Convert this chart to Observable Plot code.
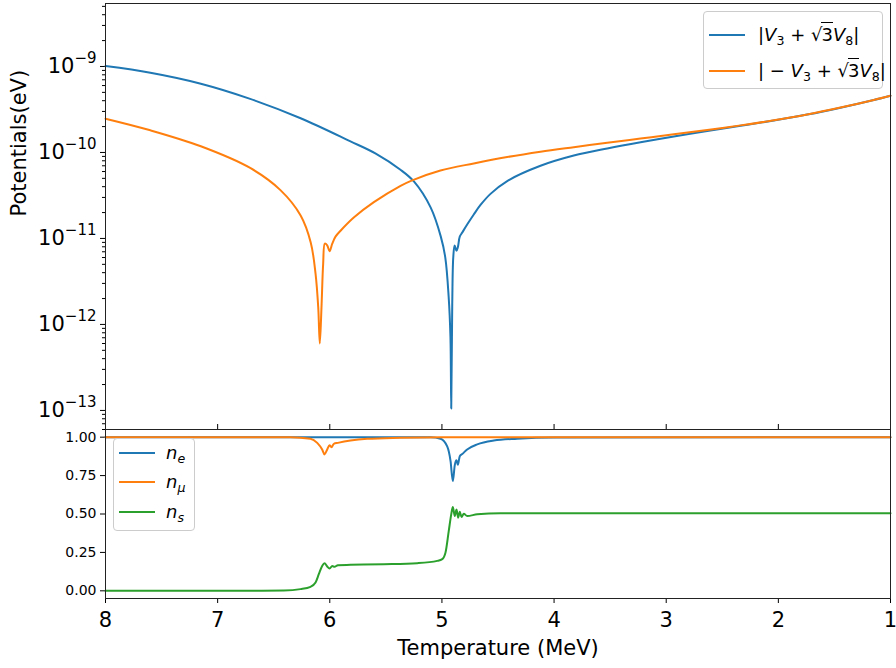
<!DOCTYPE html>
<html>
<head>
<meta charset="utf-8">
<script src="https://cdn.jsdelivr.net/npm/d3@7"></script>
<script src="https://cdn.jsdelivr.net/npm/@observablehq/plot@0.6"></script>
<style>
  body { margin: 0; background: #fff; font-family: "DejaVu Sans", sans-serif; }
  #fig { position: relative; width: 896px; height: 668px; overflow: hidden; }
  #fig > svg { position: absolute; left: 0; }
  .legend { position: absolute; background: rgba(255,255,255,0.8); border: 1px solid #cccccc; border-radius: 4px; box-sizing: border-box; }
  .key { position: absolute; height: 0; width: 36px; border-top: 2px solid; }
  .lab { position: absolute; font-size: 18px; line-height: 1; white-space: nowrap; transform: translateY(-50%); color: #000; }
  .lab sub { font-size: 0.7em; vertical-align: -0.3em; line-height: 0; }
  .ol { border-top: 1.3px solid #000; padding-top: 1px; margin-left: -1px; }
</style>
</head>
<body>
<div id="fig"></div>
<script>
// Temperature grid (MeV) and |V3 + sqrt(3) V8| (eV)
const T_plus = [8.00, 7.60, 7.15, 6.71, 6.26, 5.82, 5.59, 5.37, 5.25, 5.10, 5.01, 4.97, 4.94, 4.924, 4.917,
  4.908, 4.899, 4.887, 4.870, 4.858, 4.841, 4.819, 4.775, 4.716, 4.656, 4.567, 4.418, 4.121, 3.824,
  3.526, 3.229, 2.932, 2.634, 2.337, 2.040, 1.743, 1.446, 1.149, 1.00];
const V_plus = [1.01e-9, 8.45e-10, 6.3e-10, 4.2e-10, 2.5e-10, 1.355e-10, 9.7e-11, 6.3e-11, 4.6e-11, 2.28e-11, 1.05e-11, 6.0e-12, 2.1e-12, 7.1e-13, 1.05e-13,
  1.74e-12, 6.0e-12, 8.3e-12, 7.2e-12, 7.9e-12, 1.05e-11, 1.17e-11, 1.45e-11, 1.9e-11, 2.45e-11, 3.3e-11, 4.65e-11, 7.0e-11, 9.2e-11,
  1.114e-10, 1.318e-10, 1.535e-10, 1.778e-10, 2.042e-10, 2.355e-10, 2.76e-10, 3.32e-10, 4.08e-10, 4.57e-10];

// |-V3 + sqrt(3) V8| (eV)
const T_minus = [8.00, 7.60, 7.15, 6.71, 6.44, 6.26, 6.17, 6.127, 6.103, 6.089, 6.074, 6.059, 6.044, 6.023,
  6.002, 5.978, 5.949, 5.904, 5.786, 5.607, 5.369, 5.265, 5.013, 4.716, 4.418, 4.121, 3.824, 3.526,
  3.229, 2.932, 2.634, 2.337, 2.040, 1.743, 1.446, 1.149, 1.00];
const V_minus = [2.47e-10, 1.81e-10, 1.18e-10, 6.6e-11, 3.65e-11, 1.85e-11, 9.0e-12, 3.9e-12, 1.58e-12, 6.0e-13, 1.58e-12, 5.1e-12, 8.7e-12, 8.3e-12,
  7.1e-12, 8.7e-12, 1.05e-11, 1.23e-11, 1.75e-11, 2.64e-11, 4.09e-11, 4.74e-11, 6.17e-11, 7.46e-11, 8.85e-11, 1.021e-10, 1.153e-10, 1.297e-10,
  1.452e-10, 1.626e-10, 1.828e-10, 2.065e-10, 2.366e-10, 2.767e-10, 3.327e-10, 4.083e-10, 4.571e-10];

// Occupation numbers
const T_ne = [8.0, 5.10, 5.013, 4.953, 4.923, 4.903, 4.885, 4.870, 4.858, 4.841, 4.819, 4.775, 4.685, 4.537, 4.329, 4.0, 1.0];
const n_e  = [1.0, 1.0, 0.99, 0.94, 0.844, 0.714, 0.82, 0.85, 0.82, 0.876, 0.89, 0.92, 0.953, 0.978, 0.99, 0.998, 1.0];

const T_nmu = [8.0, 6.35, 6.172, 6.112, 6.068, 6.047, 6.023, 6.002, 5.985, 5.964, 5.928, 5.815, 5.666, 5.369, 5.0, 1.0];
const n_mu  = [1.0, 1.0, 0.99, 0.963, 0.92, 0.888, 0.92, 0.948, 0.935, 0.957, 0.963, 0.978, 0.989, 0.996, 1.0, 1.0];

const T_ns = [8.0, 6.71, 6.41, 6.261, 6.172, 6.127, 6.098, 6.068, 6.047, 6.023, 6.002, 5.978, 5.958, 5.928, 5.815,
  5.518, 5.220, 5.042, 4.997, 4.968, 4.939, 4.917, 4.903, 4.885, 4.870, 4.855, 4.841, 4.825, 4.805, 4.775, 4.685, 4.478, 1.0];
const n_s  = [0.0, 0.0, 0.002, 0.011, 0.026, 0.054, 0.108, 0.162, 0.18, 0.158, 0.145, 0.162, 0.156, 0.167, 0.169,
  0.173, 0.18, 0.195, 0.206, 0.249, 0.39, 0.498, 0.545, 0.487, 0.53, 0.476, 0.515, 0.48, 0.502, 0.487, 0.498, 0.505, 0.505];

// Axis ticks
const xTicks = [1, 2, 3, 4, 5, 6, 7, 8];
const logMajor = [1e-13, 1e-12, 1e-11, 1e-10, 1e-9];
const logMinor = d3.range(-14, -8).flatMap(e => d3.range(2, 10).map(k => k * 10 ** e));
const linTicks = [0, 0.25, 0.5, 0.75, 1.0];

const C = { blue: "#1f77b4", orange: "#ff7f0e", green: "#2ca02c" };
const zip = (T, v) => T.map((t, i) => ({ T: t, v: v[i] }));
const font = "DejaVu Sans";

const yTop = [6.0e-14, 5.4e-9];
const potentialChart = Plot.plot({
  width: 896, height: 432,
  marginLeft: 105, marginRight: 6, marginTop: 3, marginBottom: 3,
  style: { fontFamily: font, background: "transparent", overflow: "visible" },
  x: { domain: [8, 1] },
  y: { type: "log", domain: yTop },
  marks: [
    Plot.axisY(logMinor.filter(d => d >= yTop[0] && d <= yTop[1]), { tickSize: 3, tickFormat: () => "", label: null }),
    Plot.axisY(logMajor, { tickSize: 5, tickPadding: 4, fontSize: 21, label: null,
      tickFormat: d => "10|\u2212" + Math.round(-Math.log10(d)) }),
    Plot.axisX(xTicks, { anchor: "bottom", tickSize: -5, tickFormat: () => "", label: null }),
    Plot.line(zip(T_plus, V_plus), { x: "T", y: "v", stroke: C.blue, strokeWidth: 2, curve: "catmull-rom" }),
    Plot.line(zip(T_minus, V_minus), { x: "T", y: "v", stroke: C.orange, strokeWidth: 2, curve: "catmull-rom" }),
    Plot.text(["Potentials(eV)"], { frameAnchor: "left", dx: -86, rotate: -90, fontSize: 21, fill: "#000" }),
    Plot.frame({ stroke: "#222" })
  ]
});
potentialChart.style.top = "0px";

// Superscript exponents on the log tick labels
d3.select(potentialChart).selectAll("g[aria-label='y-axis tick label'] text").each(function () {
  const parts = this.textContent.split("|");
  if (parts.length < 2) return;
  const t = d3.select(this);
  t.text(parts[0]);
  t.append("tspan").attr("dy", "-10px").attr("font-size", "15px").text(parts[1]);
});

const occupationChart = Plot.plot({
  width: 896, height: 240,
  marginLeft: 105, marginRight: 6, marginTop: 1, marginBottom: 70,
  style: { fontFamily: font, background: "transparent", overflow: "visible" },
  x: { domain: [8, 1] },
  y: { domain: [-0.05, 1.05] },
  marks: [
    Plot.axisY(linTicks, { tickSize: 5, tickPadding: 4, fontSize: 14, label: null, tickFormat: d3.format(".2f") }),
    Plot.axisX(xTicks, { anchor: "bottom", tickSize: 5, tickPadding: 9, fontSize: 21, label: null, tickFormat: d3.format("d") }),
    Plot.line(zip(T_ne, n_e), { x: "T", y: "v", stroke: C.blue, strokeWidth: 2, curve: "monotone-x" }),
    Plot.line(zip(T_nmu, n_mu), { x: "T", y: "v", stroke: C.orange, strokeWidth: 2, curve: "monotone-x" }),
    Plot.line(zip(T_ns, n_s), { x: "T", y: "v", stroke: C.green, strokeWidth: 2, curve: "monotone-x" }),
    Plot.text(["Temperature (MeV)"], { frameAnchor: "bottom", dy: 56, fontSize: 21, fill: "#000" }),
    Plot.frame({ stroke: "#222" })
  ]
});
occupationChart.style.top = "428px";

const fig = document.getElementById("fig");
fig.append(potentialChart, occupationChart);

// Legends
const legendTop = [
  { color: C.blue, html: '|<i>V</i><sub>3</sub> + √<span class="ol">3</span><i>V</i><sub>8</sub>|', y: 35 },
  { color: C.orange, html: '| \u2212 <i>V</i><sub>3</sub> + √<span class="ol">3</span><i>V</i><sub>8</sub>|', y: 71 }
];
const legendBottom = [
  { color: C.blue, html: '<i>n</i><sub><i>e</i></sub>', y: 453 },
  { color: C.orange, html: '<i>n</i><sub><i>μ</i></sub>', y: 482 },
  { color: C.green, html: '<i>n</i><sub><i>s</i></sub>', y: 512 }
];
function legend(box, items, keyX, textX) {
  const b = document.createElement("div");
  b.className = "legend";
  Object.assign(b.style, { left: box[0] + "px", top: box[1] + "px", width: box[2] + "px", height: box[3] + "px" });
  fig.append(b);
  for (const it of items) {
    const k = document.createElement("div");
    k.className = "key";
    Object.assign(k.style, { left: keyX + "px", top: (it.y - 1) + "px", borderTopColor: it.color });
    const l = document.createElement("div");
    l.className = "lab";
    l.innerHTML = it.html;
    Object.assign(l.style, { left: textX + "px", top: it.y + "px" });
    fig.append(k, l);
  }
}
legend([703, 11, 180, 78], legendTop, 709, 758);
legend([113, 438, 82, 93], legendBottom, 119, 166);
</script>
</body>
</html>
